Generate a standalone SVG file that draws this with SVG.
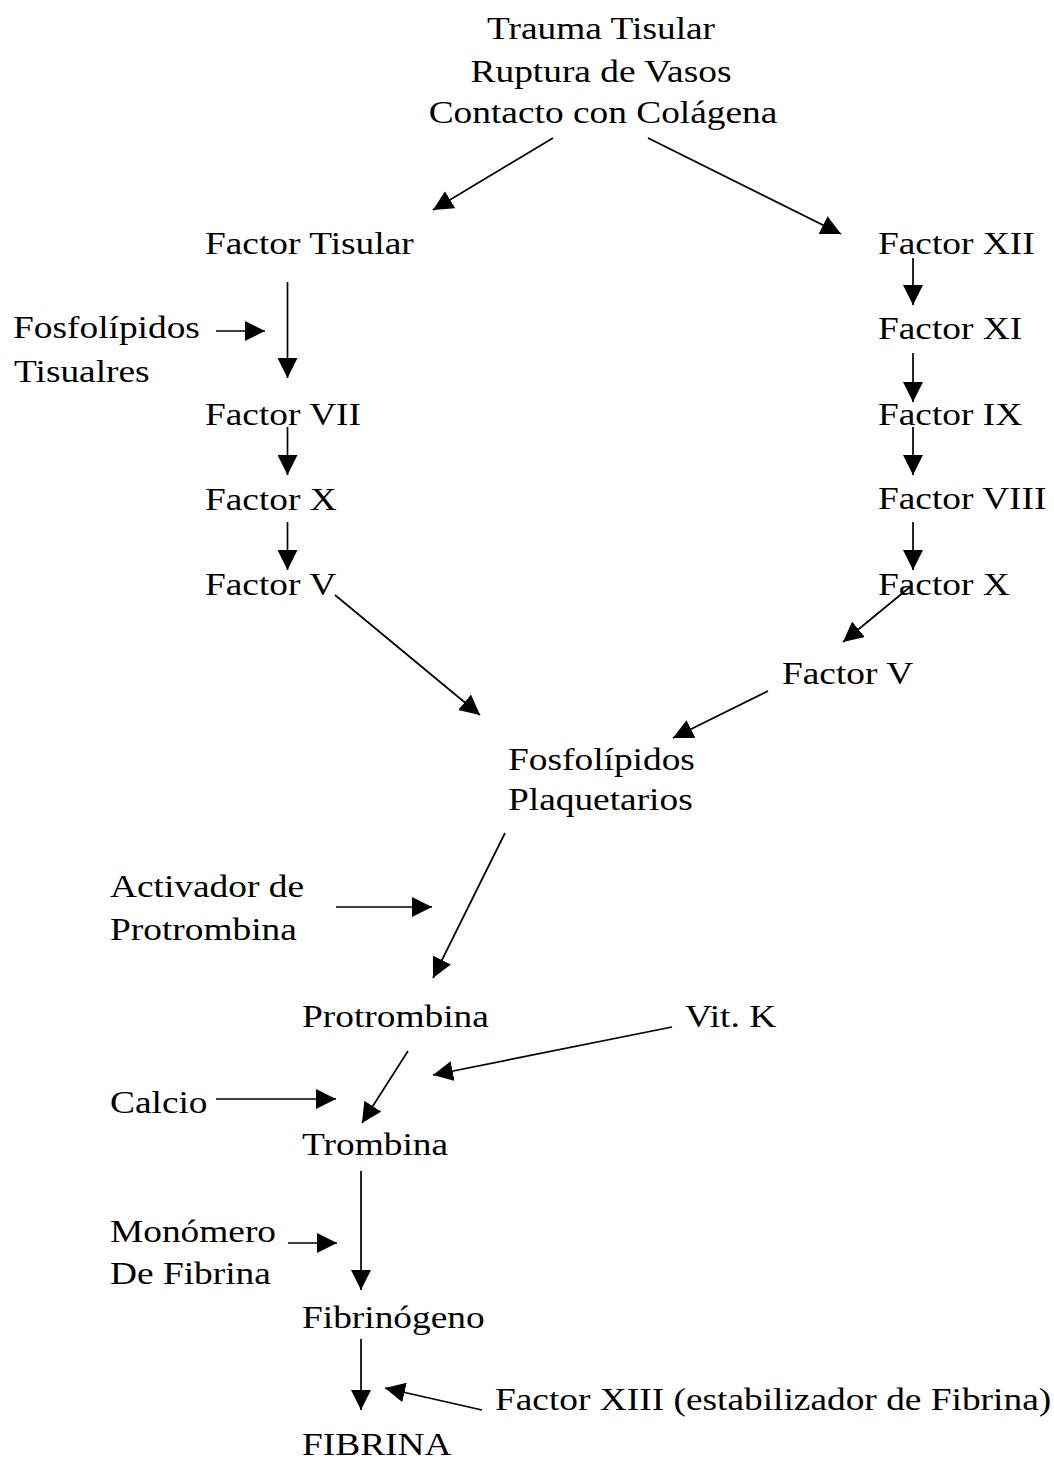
<svg xmlns="http://www.w3.org/2000/svg" width="1054" height="1459" viewBox="0 0 1054 1459">
<defs>
<style>
text{font-family:"Liberation Serif","Times New Roman",serif;font-size:32.5px;fill:#000}
.c line{stroke:#000;stroke-width:1.7;marker-end:url(#ah)}
</style>
<marker id="ah" markerUnits="userSpaceOnUse" markerWidth="20" markerHeight="20" refX="20" refY="10" orient="auto" viewBox="0 0 20 20">
<path d="M0,0 L20,10 L0,20 z" fill="#000"/>
</marker>
</defs>
<rect width="1054" height="1459" fill="#fff"/>
<g id="n-origen" text-anchor="middle">
<text transform="translate(601,39) scale(1.15,1)">Trauma Tisular</text>
<text transform="translate(601,82) scale(1.15,1)">Ruptura de Vasos</text>
<text transform="translate(603,123) scale(1.15,1)">Contacto con Colágena</text>
</g>
<g id="n-factor-tisular"><text transform="translate(205,254) scale(1.15,1)">Factor Tisular</text></g>
<g id="n-fosfo-tisulares">
<text transform="translate(13,338) scale(1.15,1)">Fosfolípidos</text>
<text transform="translate(14,382) scale(1.15,1)">Tisualres</text>
</g>
<g id="n-factor-vii"><text transform="translate(205,425) scale(1.15,1)">Factor VII</text></g>
<g id="n-factor-x-l"><text transform="translate(205,510) scale(1.15,1)">Factor X</text></g>
<g id="n-factor-v-l"><text transform="translate(205,595) scale(1.15,1)">Factor V</text></g>
<g id="n-factor-xii"><text transform="translate(878,254) scale(1.15,1)">Factor XII</text></g>
<g id="n-factor-xi"><text transform="translate(878,339) scale(1.15,1)">Factor XI</text></g>
<g id="n-factor-ix"><text transform="translate(878,425) scale(1.15,1)">Factor IX</text></g>
<g id="n-factor-viii"><text transform="translate(878,509) scale(1.15,1)">Factor VIII</text></g>
<g id="n-factor-x-r"><text transform="translate(878,595) scale(1.15,1)">Factor X</text></g>
<g id="n-factor-v-r"><text transform="translate(782,684) scale(1.15,1)">Factor V</text></g>
<g id="n-fosfo-plaq">
<text transform="translate(508,770) scale(1.15,1)">Fosfolípidos</text>
<text transform="translate(508,810) scale(1.15,1)">Plaquetarios</text>
</g>
<g id="n-activador">
<text transform="translate(110,897) scale(1.15,1)">Activador de</text>
<text transform="translate(110,940) scale(1.15,1)">Protrombina</text>
</g>
<g id="n-protrombina"><text transform="translate(302,1027) scale(1.15,1)">Protrombina</text></g>
<g id="n-vitk"><text transform="translate(685,1027) scale(1.15,1)">Vit. K</text></g>
<g id="n-calcio"><text transform="translate(110,1113) scale(1.15,1)">Calcio</text></g>
<g id="n-trombina"><text transform="translate(302,1155) scale(1.15,1)">Trombina</text></g>
<g id="n-monomero">
<text transform="translate(110,1242) scale(1.15,1)">Monómero</text>
<text transform="translate(110,1284) scale(1.15,1)">De Fibrina</text>
</g>
<g id="n-fibrinogeno"><text transform="translate(302,1328) scale(1.15,1)">Fibrinógeno</text></g>
<g id="n-factor-xiii"><text transform="translate(495,1410) scale(1.15,1)">Factor XIII (estabilizador de Fibrina)</text></g>
<g id="n-fibrina"><text transform="translate(302,1455) scale(1.15,1)">FIBRINA</text></g>
<g id="connectors" class="c">
<line x1="553" y1="138" x2="433" y2="210"/>
<line x1="648" y1="138" x2="841" y2="234"/>
<line x1="287.5" y1="282" x2="287.5" y2="378"/>
<line x1="216" y1="331" x2="265" y2="331"/>
<line x1="287.5" y1="427" x2="287.5" y2="475"/>
<line x1="287.5" y1="522" x2="287.5" y2="570"/>
<line x1="913" y1="258" x2="913" y2="305"/>
<line x1="913" y1="353" x2="913" y2="402"/>
<line x1="913" y1="427" x2="913" y2="475"/>
<line x1="913" y1="522" x2="913" y2="570"/>
<line x1="910" y1="587" x2="843" y2="642"/>
<line x1="335" y1="595" x2="480" y2="715"/>
<line x1="768" y1="691" x2="673" y2="738"/>
<line x1="505" y1="833" x2="433" y2="978"/>
<line x1="336" y1="907" x2="432" y2="907"/>
<line x1="672" y1="1027" x2="433" y2="1075"/>
<line x1="408" y1="1051" x2="362" y2="1123"/>
<line x1="216" y1="1099" x2="336" y2="1099"/>
<line x1="361" y1="1171" x2="361" y2="1290"/>
<line x1="288" y1="1243" x2="337" y2="1243"/>
<line x1="361" y1="1339" x2="361" y2="1410"/>
<line x1="482" y1="1410" x2="385" y2="1388"/>
</g>
</svg>
